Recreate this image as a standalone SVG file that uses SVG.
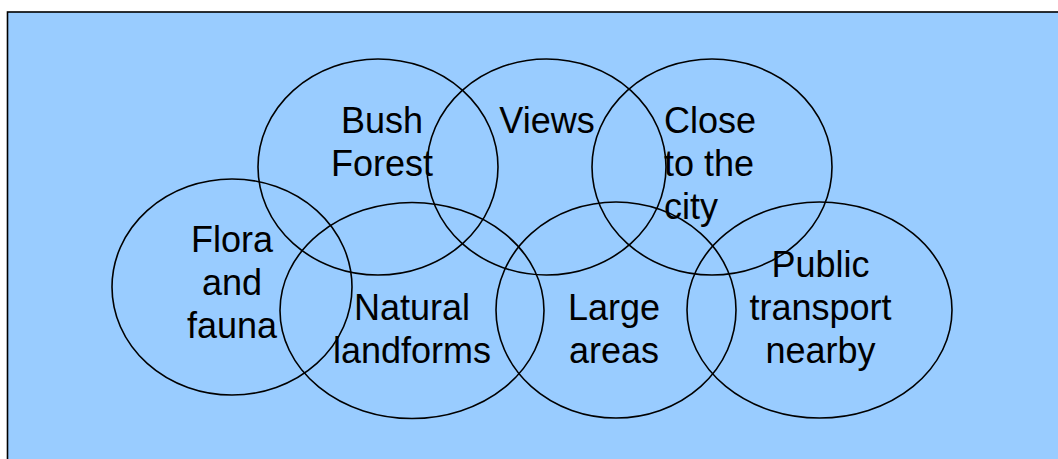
<svg xmlns="http://www.w3.org/2000/svg" width="1058" height="459" viewBox="0 0 1058 459">
<style>
.bg{fill:#99CCFF;stroke:#000;stroke-width:1.6}
.e{fill:none;stroke:#000;stroke-width:1.6}
.t{font-family:"Liberation Sans",Arial,sans-serif;font-size:36px;fill:#000;text-anchor:middle}
.l{text-anchor:start}
</style>
<rect class="bg" x="7.5" y="12" width="1070" height="470"/>
<g id="bush-forest">
<ellipse class="e" cx="378" cy="167" rx="120" ry="108"/>
<text class="t" x="382" y="133">Bush<tspan x="382" y="176">Forest</tspan></text>
</g>
<g id="views">
<ellipse class="e" cx="546.5" cy="167" rx="119.5" ry="108"/>
<text class="t" x="547" y="133">Views</text>
</g>
<g id="close-to-the-city">
<ellipse class="e" cx="712" cy="167" rx="120" ry="108"/>
<text class="t l" x="664" y="133">Close<tspan x="664" y="176">to the</tspan><tspan x="664" y="218.5">city</tspan></text>
</g>
<g id="flora-and-fauna">
<ellipse class="e" cx="232" cy="287" rx="120" ry="108"/>
<text class="t" x="232" y="252">Flora<tspan x="232" y="295">and</tspan><tspan x="232" y="337.5">fauna</tspan></text>
</g>
<g id="natural-landforms">
<ellipse class="e" cx="412" cy="310.5" rx="132" ry="108"/>
<text class="t" x="412" y="320">Natural<tspan x="412" y="362.5">landforms</tspan></text>
</g>
<g id="large-areas">
<ellipse class="e" cx="616" cy="310" rx="120" ry="108"/>
<text class="t" x="614" y="320">Large<tspan x="614" y="362.5">areas</tspan></text>
</g>
<g id="public-transport-nearby">
<ellipse class="e" cx="819.5" cy="310" rx="132.5" ry="108"/>
<text class="t" x="820.5" y="277">Public<tspan x="820.5" y="320">transport</tspan><tspan x="820.5" y="362.5">nearby</tspan></text>
</g>
<g id="connectors"/>
</svg>
